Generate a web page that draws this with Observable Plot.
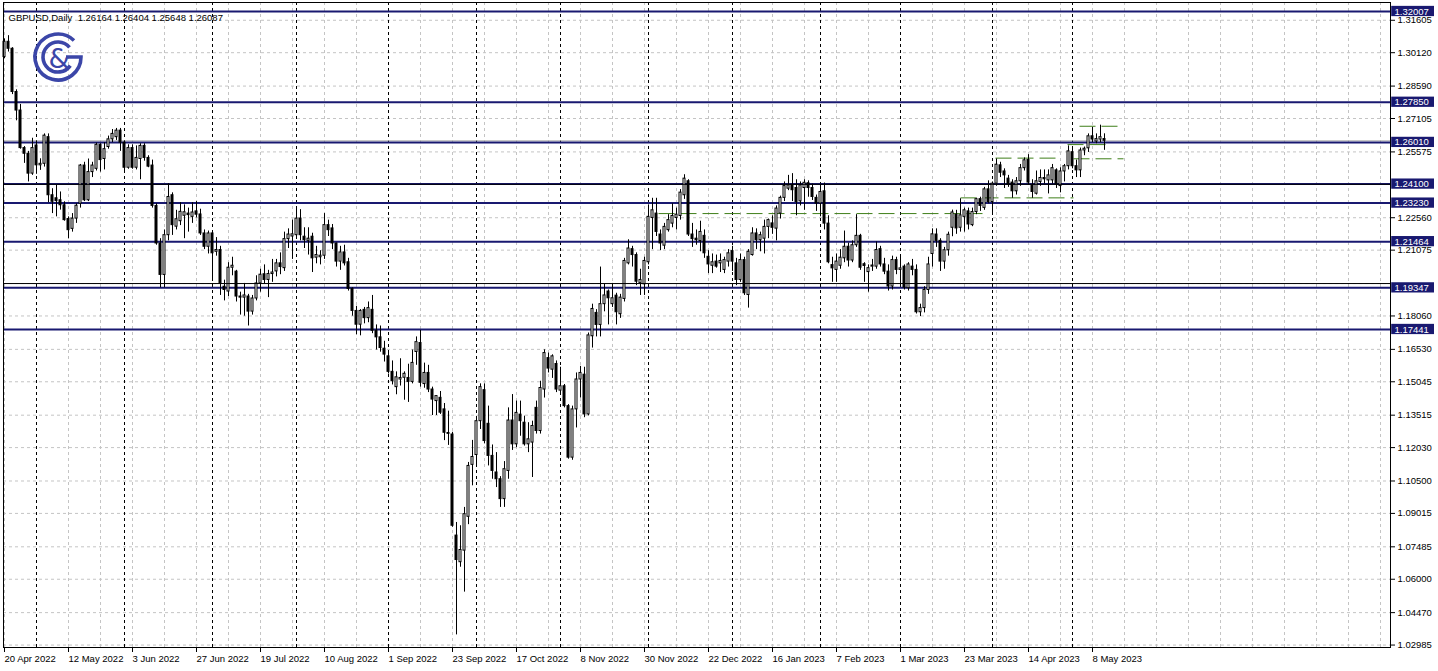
<!DOCTYPE html>
<html><head><meta charset="utf-8">
<script src="https://cdn.jsdelivr.net/npm/d3@7"></script>
<script src="https://cdn.jsdelivr.net/npm/@observablehq/plot@0.6"></script>
<style>html,body{margin:0;padding:0;background:#fff;}#chart{width:1438px;height:671px;overflow:hidden;}</style>
</head><body><div id="chart"></div>
<script>
// ---- GBPUSD daily bars (index 0 = 20 Apr 2022) ----
const opens = [
1.2992,1.3062,1.3030,1.2832,1.2747,1.2575,1.2549,1.2458,1.2587,1.2496,
1.2503,1.2625,1.2359,1.2345,1.2336,1.2313,1.2250,1.2205,1.2252,1.2320,
1.2495,1.2336,1.2465,1.2480,1.2590,1.2525,1.2580,1.2615,1.2625,1.2655,
1.2600,1.2485,1.2575,1.2485,1.2525,1.2585,1.2530,1.2495,1.2310,1.2138,
1.1994,1.2176,1.2359,1.2215,1.2240,1.2265,1.2275,1.2260,1.2285,1.2271,
1.2184,1.2123,1.2184,1.2100,1.2108,1.1940,1.1918,1.2027,1.2009,1.1895,
1.1890,1.1895,1.1826,1.1886,1.1955,1.1997,1.1971,1.1998,1.2010,1.2047,
1.2025,1.2158,1.2170,1.2176,1.2252,1.2169,1.2150,1.2169,1.2073,1.2075,
1.2082,1.2222,1.2207,1.2138,1.2055,1.2097,1.2052,1.1930,1.1829,1.1766,
1.1834,1.1796,1.1834,1.1738,1.1708,1.1656,1.1621,1.1550,1.1480,1.1515,
1.1523,1.1522,1.1504,1.1641,1.1682,1.1494,1.1545,1.1469,1.1416,1.1431,
1.1378,1.1270,1.1263,1.0800,1.0678,1.0731,1.0886,1.1124,1.1169,1.1324,
1.1466,1.1312,1.1165,1.1089,1.1058,1.0967,1.1096,1.1327,1.1218,1.1354,
1.1317,1.1218,1.1226,1.1385,1.1279,1.1469,1.1613,1.1560,1.1586,1.1464,
1.1484,1.1393,1.1157,1.1378,1.1515,1.1537,1.1355,1.1713,1.1820,1.1765,
1.1860,1.1918,1.1860,1.1899,1.1814,1.1884,1.2047,1.2112,1.2085,1.1956,
1.1951,1.2052,1.2255,1.2275,1.2179,1.2128,1.2199,1.2229,1.2255,1.2264,
1.2359,1.2423,1.2179,1.2160,1.2149,1.2173,1.2077,1.2036,1.2055,1.2047,
1.2017,1.2055,1.2103,1.2047,1.1971,1.2062,1.1902,1.2085,1.2184,1.2153,
1.2160,1.2214,1.2230,1.2206,1.2275,1.2347,1.2389,1.2404,1.2392,1.2331,
1.2392,1.2414,1.2392,1.2347,1.2321,1.2377,1.2229,1.2039,1.2017,1.2036,
1.2070,1.2123,1.2060,1.2130,1.2173,1.2043,1.2007,1.2032,1.2032,1.2112,
1.2042,1.2009,1.1941,1.2062,1.2017,1.2032,1.1933,1.2032,1.2017,1.1823,
1.1842,1.1925,1.2090,1.2179,1.2150,1.2055,1.2107,1.2210,1.2270,1.2210,
1.2260,1.2285,1.2222,1.2282,1.2341,1.2301,1.2386,1.2328,1.2412,1.2496,
1.2468,1.2435,1.2417,1.2377,1.2423,1.2483,1.2521,1.2402,1.2366,1.2420,
1.2438,1.2427,1.2427,1.2473,1.2401,1.2468,1.2492,1.2556,1.2492,1.2473,
1.2564,1.2574,1.2629,1.2605,1.2614,1.26164];
const highs = [
1.3075,1.3090,1.3035,1.2842,1.2775,1.2582,1.2560,1.2620,1.2608,1.2526,
1.2640,1.2640,1.2389,1.2404,1.2374,1.2329,1.2260,1.2275,1.2320,1.2500,
1.2510,1.2525,1.2510,1.2598,1.2595,1.2600,1.2630,1.2660,1.2665,1.2665,
1.2608,1.2590,1.2590,1.2585,1.2595,1.2595,1.2540,1.2520,1.2320,1.2160,
1.2200,1.2412,1.2370,1.2290,1.2325,1.2315,1.2300,1.2325,1.2330,1.2295,
1.2200,1.2195,1.2190,1.2165,1.2125,1.1970,1.2050,1.2075,1.2015,1.1915,
1.1955,1.1905,1.1900,1.1990,1.2020,1.2040,1.2015,1.2065,1.2065,1.2095,
1.2190,1.2205,1.2245,1.2295,1.2293,1.2210,1.2210,1.2185,1.2125,1.2105,
1.2275,1.2245,1.2225,1.2140,1.2125,1.2130,1.2070,1.1935,1.1850,1.1835,
1.1845,1.1870,1.1900,1.1765,1.1760,1.1690,1.1640,1.1600,1.1550,1.1610,
1.1550,1.1585,1.1650,1.1710,1.1740,1.1590,1.1580,1.1480,1.1440,1.1460,
1.1405,1.1370,1.1273,1.0860,1.0845,1.0929,1.1135,1.1236,1.1346,1.1495,
1.1495,1.1393,1.1215,1.1180,1.1070,1.1139,1.1385,1.1446,1.1416,1.1416,
1.1347,1.1317,1.1324,1.1416,1.1507,1.1651,1.1636,1.1628,1.1600,1.1571,
1.1492,1.1400,1.1393,1.1545,1.1575,1.1571,1.1728,1.1860,1.1835,1.2030,
1.1950,1.1925,1.1955,1.1910,1.1905,1.2070,1.2155,1.2125,1.2095,1.2020,
1.2075,1.2315,1.2345,1.2345,1.2200,1.2230,1.2270,1.2320,1.2300,1.2385,
1.2453,1.2430,1.2230,1.2200,1.2240,1.2200,1.2105,1.2090,1.2085,1.2090,
1.2075,1.2110,1.2125,1.2070,1.2090,1.2075,1.2110,1.2210,1.2205,1.2190,
1.2245,1.2250,1.2265,1.2310,1.2355,1.2420,1.2450,1.2458,1.2430,1.2420,
1.2430,1.2425,1.2410,1.2360,1.2410,1.2415,1.2265,1.2075,1.2090,1.2110,
1.2195,1.2140,1.2150,1.2270,1.2180,1.2050,1.2040,1.2065,1.2145,1.2125,
1.2070,1.2040,1.2080,1.2075,1.2080,1.2040,1.2050,1.2065,1.2040,1.1860,
1.1940,1.2075,1.2205,1.2205,1.2160,1.2120,1.2190,1.2291,1.2290,1.2343,
1.2300,1.2300,1.2300,1.2345,1.2350,1.2395,1.2425,1.2420,1.2525,1.2510,
1.2480,1.2450,1.2430,1.2440,1.2500,1.2530,1.2545,1.2430,1.2470,1.2475,
1.2475,1.2475,1.2500,1.2480,1.2485,1.2500,1.2585,1.2570,1.2520,1.2575,
1.2580,1.2640,1.2670,1.2640,1.2680,1.26404];
const lows = [
1.2985,1.3015,1.2820,1.2700,1.2570,1.2505,1.2420,1.2450,1.2455,1.2473,
1.2488,1.2325,1.2275,1.2260,1.2291,1.2240,1.2160,1.2190,1.2230,1.2300,
1.2330,1.2330,1.2440,1.2470,1.2465,1.2475,1.2570,1.2600,1.2610,1.2560,
1.2460,1.2478,1.2478,1.2475,1.2430,1.2515,1.2485,1.2300,1.2130,1.1935,
1.1935,1.2150,1.2175,1.2200,1.2220,1.2160,1.2190,1.2230,1.2255,1.2175,
1.2110,1.2090,1.1975,1.2080,1.1900,1.1875,1.1895,1.1990,1.1870,1.1810,
1.1805,1.1760,1.1810,1.1875,1.1915,1.1950,1.1890,1.1960,1.1985,1.1995,
1.2010,1.2115,1.2065,1.2160,1.2150,1.2115,1.2085,1.2005,1.2045,1.2040,
1.2065,1.2170,1.2110,1.2030,1.2015,1.2035,1.1920,1.1805,1.1720,1.1715,
1.1770,1.1775,1.1725,1.1650,1.1640,1.1595,1.1540,1.1490,1.1445,1.1485,
1.1420,1.1410,1.1495,1.1580,1.1480,1.1475,1.1455,1.1350,1.1350,1.1355,
1.1235,1.1213,1.0838,1.0345,1.0655,1.0541,1.0850,1.1028,1.1117,1.1286,
1.1220,1.1119,1.1058,1.1020,1.0929,1.0929,1.1058,1.1190,1.1203,1.1255,
1.1210,1.1180,1.1066,1.1265,1.1265,1.1430,1.1545,1.1520,1.1455,1.1455,
1.1385,1.1150,1.1145,1.1293,1.1430,1.1340,1.1348,1.1659,1.1710,1.1710,
1.1825,1.1765,1.1845,1.1765,1.1795,1.1870,1.2040,1.2030,1.1945,1.1900,
1.1900,1.2040,1.2110,1.2170,1.2105,1.2110,1.2190,1.2210,1.2200,1.2245,
1.2340,1.2170,1.2120,1.2130,1.2100,1.2070,1.2000,1.2000,1.2025,1.2005,
1.2000,1.2030,1.2010,1.1945,1.1960,1.1900,1.1842,1.2080,1.2110,1.2100,
1.2090,1.2160,1.2180,1.2150,1.2250,1.2330,1.2380,1.2330,1.2265,1.2310,
1.2290,1.2350,1.2335,1.2285,1.2260,1.2200,1.2045,1.1960,1.1960,1.2020,
1.2050,1.2030,1.2050,1.2120,1.2015,1.1960,1.1915,1.2010,1.2020,1.2030,
1.1995,1.1920,1.1925,1.1995,1.1950,1.1925,1.1920,1.1990,1.1815,1.1803,
1.1820,1.1905,1.2030,1.2120,1.2010,1.2020,1.2080,1.2169,1.2180,1.2190,
1.2190,1.2200,1.2215,1.2270,1.2285,1.2290,1.2320,1.2280,1.2400,1.2440,
1.2390,1.2395,1.2345,1.2360,1.2400,1.2470,1.2405,1.2345,1.2360,1.2400,
1.2410,1.2365,1.2410,1.2390,1.2370,1.2420,1.2475,1.2480,1.2440,1.2440,
1.2540,1.2555,1.2600,1.2595,1.2600,1.25648];
const closes = [
1.3062,1.3030,1.2832,1.2747,1.2575,1.2549,1.2458,1.2575,1.2496,1.2503,
1.2632,1.2359,1.2329,1.2332,1.2313,1.2245,1.2199,1.2252,1.2311,1.2495,
1.2336,1.2465,1.2495,1.2590,1.2520,1.2570,1.2615,1.2640,1.2655,1.2600,
1.2485,1.2575,1.2485,1.2530,1.2585,1.2530,1.2490,1.2310,1.2138,1.1994,
1.2176,1.2351,1.2222,1.2249,1.2283,1.2281,1.2268,1.2280,1.2270,1.2184,
1.2123,1.2184,1.2093,1.2108,1.1956,1.1925,1.2027,1.2036,1.1895,1.1890,
1.1900,1.1826,1.1886,1.1955,1.1995,1.1971,1.1998,1.2005,1.2047,1.2030,
1.2158,1.2179,1.2180,1.2252,1.2176,1.2153,1.2160,1.2070,1.2085,1.2082,
1.2222,1.2199,1.2138,1.2055,1.2097,1.2047,1.1930,1.1829,1.1766,1.1829,
1.1796,1.1842,1.1738,1.1708,1.1659,1.1629,1.1550,1.1507,1.1525,1.1522,
1.1541,1.1504,1.1591,1.1686,1.1500,1.1545,1.1469,1.1423,1.1439,1.1363,
1.1271,1.1266,1.0845,1.0688,1.0734,1.0898,1.1119,1.1160,1.1324,1.1480,
1.1233,1.1165,1.1096,1.1058,1.0967,1.1104,1.1327,1.1218,1.1362,1.1324,
1.1218,1.1241,1.1302,1.1279,1.1476,1.1636,1.1565,1.1621,1.1469,1.1484,
1.1393,1.1157,1.1378,1.1515,1.1545,1.1355,1.1717,1.1838,1.1765,1.1860,
1.1900,1.1887,1.1887,1.1823,1.1890,1.2058,1.2115,1.2085,1.1963,1.1971,
1.2058,1.2260,1.2290,1.2191,1.2138,1.2214,1.2245,1.2264,1.2270,1.2371,
1.2435,1.2179,1.2158,1.2153,1.2191,1.2093,1.2042,1.2052,1.2032,1.2058,
1.2062,1.2093,1.2055,1.1971,1.2062,1.1910,1.2100,1.2184,1.2153,1.2176,
1.2214,1.2245,1.2210,1.2298,1.2347,1.2401,1.2404,1.2382,1.2328,1.2404,
1.2416,1.2392,1.2351,1.2321,1.2374,1.2229,1.2052,1.2024,1.2055,1.2073,
1.2123,1.2060,1.2130,1.2173,1.2027,1.2035,1.2025,1.2037,1.2108,1.2042,
1.2009,1.1941,1.2062,1.2017,1.2024,1.1936,1.2042,1.2017,1.1823,1.1842,
1.1925,1.2042,1.2180,1.2150,1.2055,1.2107,1.2178,1.2280,1.2207,1.2267,
1.2290,1.2225,1.2282,1.2341,1.2310,1.2386,1.2328,1.2412,1.2499,1.2462,
1.2450,1.2408,1.2377,1.2423,1.2483,1.2519,1.2417,1.2374,1.2423,1.2438,
1.2432,1.2450,1.2483,1.2408,1.2468,1.2492,1.2560,1.2492,1.2473,1.2564,
1.2572,1.2629,1.2614,1.2616,1.2625,1.26087];

// x-axis labels, one every 16 bars
const dateLabels = ["20 Apr 2022","12 May 2022","3 Jun 2022","27 Jun 2022","19 Jul 2022","10 Aug 2022","1 Sep 2022","23 Sep 2022","17 Oct 2022","8 Nov 2022","30 Nov 2022","22 Dec 2022","16 Jan 2023","7 Feb 2023","1 Mar 2023","23 Mar 2023","14 Apr 2023","8 May 2023"];
// bar index of the first bar of each month (period separators)
const monthStarts = [8,30,52,73,96,118,139,161,182,204,224,247,267];
// price scale ticks on the right
const priceTicks = [1.31605,1.30120,1.28590,1.27105,1.25575,1.24090,1.22560,1.21075,1.19545,1.18060,1.16530,1.15045,1.13515,1.12030,1.10500,1.09015,1.07485,1.06000,1.04470,1.02985];
const hiddenTicks = [1.24090,1.19545];
// horizontal support / resistance levels
const levels = [1.32007,1.27850,1.26010,1.24100,1.23230,1.21464,1.19347,1.17441];
const bidPrice = 1.26087;
// green dashed range lines (bar index start/end, price)
const annotStart = [163.5,239,247.75,268.75,265.75,267.25];
const annotEnd   = [245.75,267.25,264,278.5,276,279.75];
const annotPrice = [1.2275,1.2347,1.2529,1.2675,1.2591,1.2526];
const titleText = "GBPUSD,Daily  1.26164 1.26404 1.25648 1.26087";

const navy = "#191970", green = "#3f7f1a", gridGrey = "#c4c4c4";
const bars = opens.map((o, i) => ({i, o, h: highs[i], l: lows[i], c: closes[i]}));
const annots = annotPrice.map((p, k) => ({x1: annotStart[k], x2: annotEnd[k], p}));
const xDomain = [-0.25, 346.5];
const yDomain = [1.02873, 1.32419];
const labelTicks = dateLabels.map((_, k) => k * 16);
const gridIdx = d3.range(0, 345, 8);
const boxHalf = 0.00235;

const chart = Plot.plot({
  width: 1438, height: 671,
  marginLeft: 3, marginRight: 48, marginTop: 2, marginBottom: 24,
  x: {domain: xDomain, axis: null},
  y: {domain: yDomain, axis: null},
  style: {fontFamily: "Liberation Sans, Arial, sans-serif", fontSize: "9.5px", background: "#fff", color: "#000", overflow: "visible"},
  marks: [
    Plot.ruleY(priceTicks, {stroke: gridGrey, strokeDasharray: "3,3"}),
    Plot.ruleX(gridIdx, {stroke: gridGrey, strokeDasharray: "3,3"}),
    Plot.ruleX(monthStarts, {stroke: "#000", strokeDasharray: "3,3"}),
    Plot.ruleY([bidPrice], {stroke: "#b8b8b8"}),
    Plot.ruleY(levels, {stroke: navy, strokeWidth: 2}),
    Plot.link(annots, {x1: "x1", x2: "x2", y1: "p", y2: "p", stroke: green, strokeDasharray: "16,6"}),
    Plot.ruleX(bars, {x: "i", y1: "l", y2: "h", stroke: "#000"}),
    Plot.rect(bars, {x1: d => d.i - 0.25, x2: d => d.i + 0.25, y1: "o", y2: "c",
      fill: d => d.c >= d.o ? "#fff" : "#000", stroke: "#000", strokeWidth: 1}),
    Plot.frame({stroke: "#000"}),
    Plot.axisX(labelTicks, {anchor: "bottom", tickSize: 5, tickPadding: 3, textAnchor: "start",
      tickFormat: d => dateLabels[d / 16], fontSize: "9.5px"}),
    Plot.axisY(priceTicks.filter(p => !hiddenTicks.includes(p)), {anchor: "right", tickSize: 4, tickPadding: 3,
      tickFormat: d => d.toFixed(5), fontSize: "9.5px"}),
    Plot.tickY(hiddenTicks, {x1: xDomain[1], x2: xDomain[1] + 1, stroke: "#000"}),
    Plot.rect(levels, {x1: xDomain[1] + 0.3, x2: xDomain[1] + 11, y1: d => d - boxHalf, y2: d => d + boxHalf, fill: navy}),
    Plot.text(levels, {y: d => d, frameAnchor: "right", dx: 4, textAnchor: "start", text: d => d.toFixed(5), fill: "#fff", fontSize: "9.5px"}),
    Plot.text([titleText], {frameAnchor: "top-left", dx: 5, dy: 12, textAnchor: "start", text: d => d, fill: "#000", fontSize: "9.5px"})
  ]
});
document.getElementById("chart").append(chart);

// company logo (decoration)
const ns = "http://www.w3.org/2000/svg";
const g = document.createElementNS(ns, "g");
g.innerHTML = '<path d="M73.98,40.45 A23,23 0 1,0 81,57 L66,57" fill="none" stroke="#3b46a8" stroke-width="3.6"/>' +
  '<path d="M69.5,47.4 A15,15 0 1,0 70.3,65.6" fill="none" stroke="#3b46a8" stroke-width="3.6"/>' +
  '<text x="59" y="68" text-anchor="middle" font-family="DejaVu Sans" font-size="27" fill="#3b46a8">&amp;</text>';
chart.appendChild(g);
</script>
</body></html>
